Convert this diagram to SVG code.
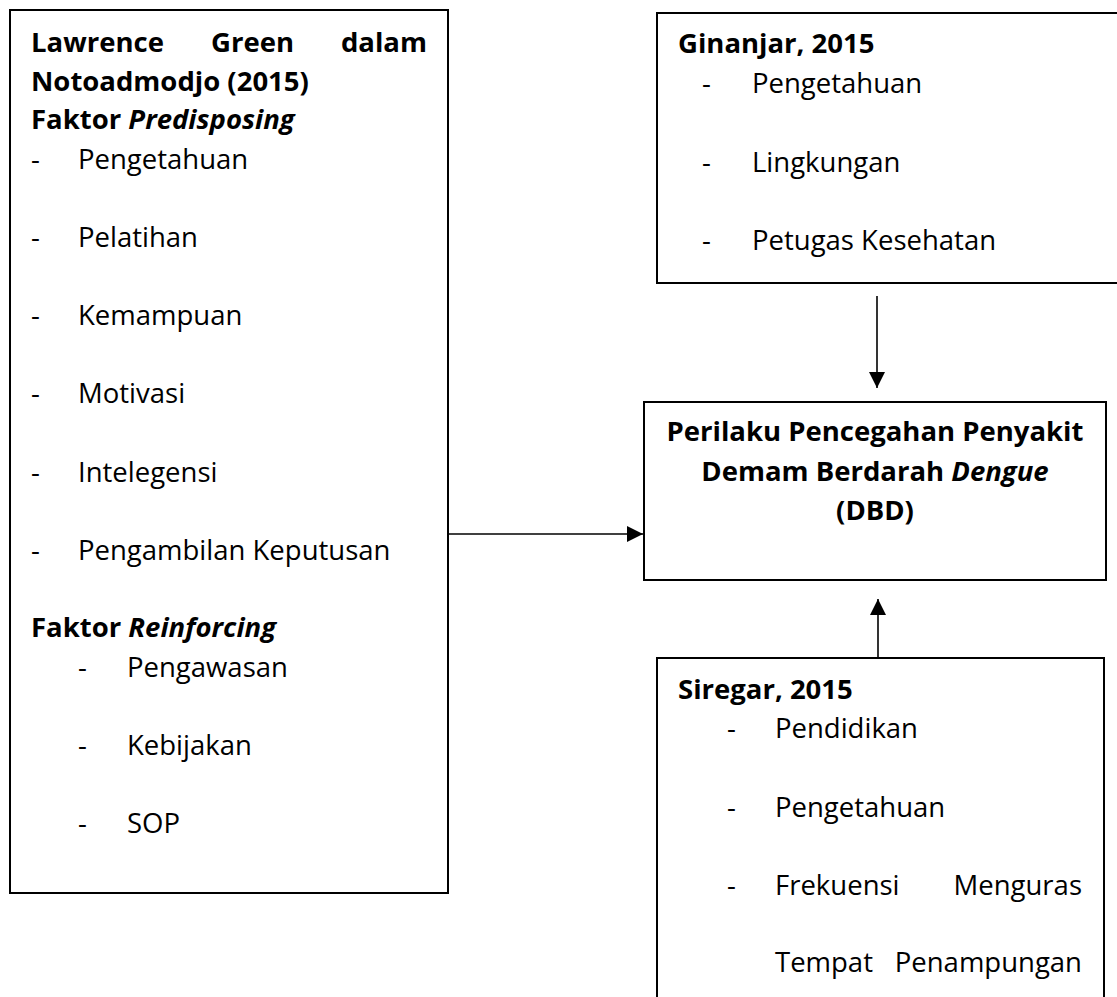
<svg xmlns="http://www.w3.org/2000/svg" width="1117" height="997" viewBox="0 0 1117 997">
<style>
.box{fill:#fff;stroke:#000;stroke-width:2}
.t{font-family:"Open Sans","Noto Sans",sans-serif;font-size:27.5px;fill:#000}
.b{font-weight:bold}
.i{font-style:italic}
.c{stroke:#000;stroke-width:1.6;fill:none}
</style>
<defs>
<marker id="ah" markerUnits="userSpaceOnUse" markerWidth="16" markerHeight="16" refX="16" refY="8" orient="auto">
<path d="M0,0 L16,8 L0,16 Z" fill="#000"/>
</marker>
</defs>
<rect width="1117" height="997" fill="#fff"/>
<g id="lawrence">
<rect class="box" x="10" y="10" width="438" height="883"/>
<text class="t b" x="31" y="52">Lawrence</text>
<text class="t b" x="211" y="52">Green</text>
<text class="t b" x="427" y="52" text-anchor="end">dalam</text>
<text class="t b" x="31" y="91">Notoadmodjo (2015)</text>
<text class="t b" x="31" y="129">Faktor <tspan class="i">Predisposing</tspan></text>
<text class="t" x="31" y="169">-</text><text class="t" x="78" y="169">Pengetahuan</text>
<text class="t" x="31" y="247">-</text><text class="t" x="78" y="247">Pelatihan</text>
<text class="t" x="31" y="325">-</text><text class="t" x="78" y="325">Kemampuan</text>
<text class="t" x="31" y="403">-</text><text class="t" x="78" y="403">Motivasi</text>
<text class="t" x="31" y="482">-</text><text class="t" x="78" y="482">Intelegensi</text>
<text class="t" x="31" y="560">-</text><text class="t" x="78" y="560">Pengambilan Keputusan</text>
<text class="t b" x="31" y="637">Faktor <tspan class="i">Reinforcing</tspan></text>
<text class="t" x="78" y="677">-</text><text class="t" x="127" y="677">Pengawasan</text>
<text class="t" x="78" y="755">-</text><text class="t" x="127" y="755">Kebijakan</text>
<text class="t" x="78" y="833">-</text><text class="t" x="127" y="833">SOP</text>
</g>
<g id="ginanjar">
<rect class="box" x="657" y="13" width="470" height="270"/>
<text class="t b" x="678" y="53">Ginanjar, 2015</text>
<text class="t" x="702" y="93">-</text><text class="t" x="752" y="93">Pengetahuan</text>
<text class="t" x="702" y="172">-</text><text class="t" x="752" y="172">Lingkungan</text>
<text class="t" x="702" y="250">-</text><text class="t" x="752" y="250">Petugas Kesehatan</text>
</g>
<g id="perilaku">
<rect class="box" x="644" y="402" width="462" height="178"/>
<text class="t b" x="875" y="441" text-anchor="middle">Perilaku Pencegahan Penyakit</text>
<text class="t b" x="875" y="481" text-anchor="middle">Demam Berdarah <tspan class="i">Dengue</tspan></text>
<text class="t b" x="875" y="520" text-anchor="middle">(DBD)</text>
</g>
<g id="siregar">
<rect class="box" x="657" y="658" width="447" height="360"/>
<text class="t b" x="678" y="699">Siregar, 2015</text>
<text class="t" x="727" y="738">-</text><text class="t" x="775" y="738">Pendidikan</text>
<text class="t" x="727" y="817">-</text><text class="t" x="775" y="817">Pengetahuan</text>
<text class="t" x="727" y="895">-</text><text class="t" x="775" y="895">Frekuensi</text>
<text class="t" x="1082" y="895" text-anchor="end">Menguras</text>
<text class="t" x="775" y="972">Tempat</text>
<text class="t" x="1082" y="972" text-anchor="end">Penampungan</text>
</g>
<g id="connectors">
<line class="c" x1="448" y1="534" x2="643" y2="534" marker-end="url(#ah)"/>
<line class="c" x1="877" y1="296" x2="877" y2="388" marker-end="url(#ah)"/>
<line class="c" x1="878" y1="658" x2="878" y2="599" marker-end="url(#ah)"/>
</g>
</svg>
